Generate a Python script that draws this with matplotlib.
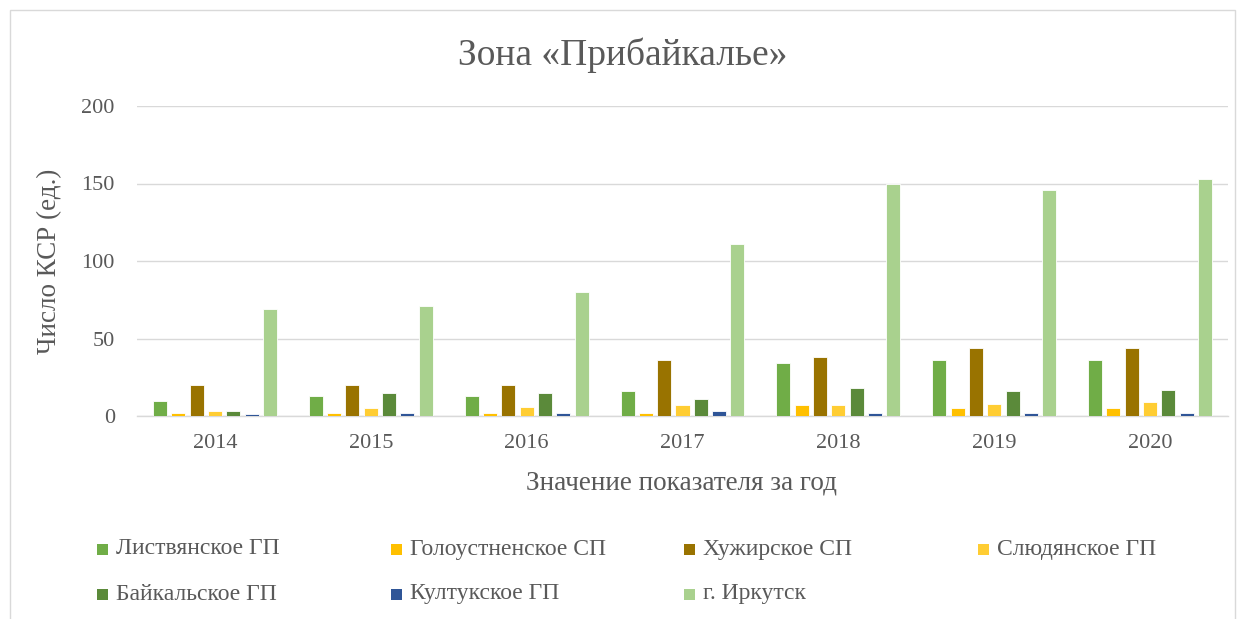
import matplotlib
matplotlib.use("Agg")
import matplotlib.pyplot as plt
import numpy as np
from matplotlib.patches import Rectangle

years = ["2014", "2015", "2016", "2017", "2018", "2019", "2020"]
series_names = ["Листвянское ГП", "Голоустненское СП", "Хужирское СП", "Слюдянское ГП",
                "Байкальское ГП", "Култукское ГП", "г. Иркутск"]
listv = [10, 13, 13, 16, 34, 36, 36]
goloust = [2, 2, 2, 2, 7, 5, 5]
khuzhir = [20, 20, 20, 36, 38, 44, 44]
slyud = [3, 5, 6, 7, 7, 8, 9]
baikal = [3, 15, 15, 11, 18, 16, 17]
kultuk = [1, 2, 2, 3, 2, 2, 2]
irkutsk = [69, 71, 80, 111, 150, 146, 153]
values = [listv, goloust, khuzhir, slyud, baikal, kultuk, irkutsk]
colors = ["#70AD47", "#FFC000", "#997300", "#FFCD33", "#5B8A3A", "#2F5597", "#A9D18E"]

plt.rcParams['font.family'] = ['Liberation Serif', 'DejaVu Serif']
txt = "#595959"
W, H = 1245, 619

fig = plt.figure(figsize=(W / 100, H / 100), dpi=100)
fig.patches.append(Rectangle((10 / W, -0.1), 1225 / W, 1 - 10 / H + 0.1, transform=fig.transFigure,
                             fill=False, edgecolor="#D9D9D9", linewidth=1))
ax = fig.add_axes([137 / W, 1 - 416 / H, (1228 - 137) / W, (416 - 106) / H])

x = np.arange(len(years))
step = 0.1175
w = 0.09
for i, (name, vals, c) in enumerate(zip(series_names, values, colors)):
    ax.bar(x + (i - 3) * step, vals, width=w, color=c, label=name,
           edgecolor="white", linewidth=0.6, zorder=3)

ax.set_xlim(-0.5, len(years) - 0.5)
ax.set_ylim(0, 200)
ax.set_yticks([0, 50, 100, 150, 200])
ax.set_xticks(x)
ax.set_xticklabels(years)
ax.yaxis.grid(True, color="#D9D9D9", linewidth=1, zorder=0)
for s in ["top", "right", "left"]:
    ax.spines[s].set_visible(False)
ax.spines["bottom"].set_color("#D9D9D9")
ax.spines["bottom"].set_linewidth(1)
ax.tick_params(axis="both", length=0, labelsize=16, colors=txt)
ax.tick_params(axis="x", pad=13)
ax.tick_params(axis="y", pad=16)

fig.text(0.5, 1 - 55 / H, "Зона «Прибайкалье»", ha="center", va="center", fontsize=27, color=txt)
fig.text(681 / W, 1 - 483 / H, "Значение показателя за год", ha="center", va="center",
         fontsize=19.5, color=txt)
fig.text(50 / W, 1 - 261 / H, "Число КСР (ед.)", ha="center", va="center", rotation=90,
         fontsize=19.5, color=txt)

# legend (manual layout, 4 columns x 2 rows)
col_x = [97, 391, 684, 978]
row_y = [549, 594]
for i, (name, c) in enumerate(zip(series_names, colors)):
    r, k = divmod(i, 4)
    mx, my = col_x[k], row_y[r]
    fig.patches.append(Rectangle((mx / W, 1 - (my + 5.5) / H), 11 / W, 11 / H,
                                 transform=fig.transFigure, facecolor=c, edgecolor="none"))
    fig.text((mx + 19) / W, 1 - my / H, name, ha="left", va="center", fontsize=17, color=txt)

fig.savefig("out.png", dpi=100)
